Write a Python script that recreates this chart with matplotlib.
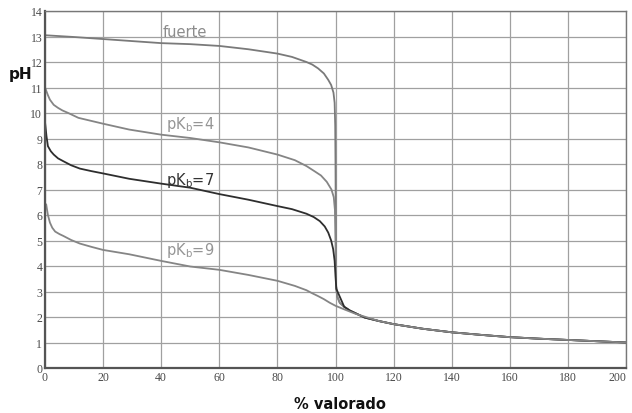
import matplotlib
matplotlib.use("Agg")
import matplotlib.pyplot as plt
import numpy as np

# common tail (excess strong acid), shared by all curves after equivalence
tail_x = [100.2, 100.6, 101.5, 103, 105, 110, 115, 120, 130, 140, 150, 160, 170, 180, 190, 200]
tail_ph = [3.2, 2.8, 2.55, 2.4, 2.25, 1.98, 1.84, 1.72, 1.54, 1.40, 1.30, 1.21, 1.15, 1.10, 1.05, 1.00]

fuerte_x = [0, 10, 20, 30, 40, 50, 60, 70, 80, 85, 90, 92, 94, 96, 97.5, 98.5, 99.3, 99.7, 99.9, 100]
fuerte_ph = [13.05, 12.98, 12.9, 12.82, 12.74, 12.7, 12.63, 12.5, 12.33, 12.2, 12.0, 11.9, 11.75, 11.55, 11.3, 11.1, 10.8, 10.4, 9.5, 8.0]

pkb4_x = [0, 1, 1.7, 3, 4.5, 6, 8, 11.5, 20, 29, 40, 50, 60, 70, 80, 86, 90, 93, 95, 97, 98.6, 99.4, 99.8, 100]
pkb4_ph = [11.0, 10.7, 10.52, 10.32, 10.2, 10.1, 10.0, 9.81, 9.58, 9.35, 9.15, 9.02, 8.85, 8.65, 8.37, 8.15, 7.92, 7.7, 7.55, 7.3, 7.0, 6.7, 6.2, 5.0]

pkb7_x = [0, 0.5, 1, 2, 3, 4.5, 6.3, 9, 12, 16, 20, 29, 40, 50, 60, 70, 80, 85, 90, 92.5, 94.6, 96.3, 97.5, 98.5, 99.2, 99.7, 100, 100.3]
pkb7_ph = [9.65, 9.1, 8.7, 8.5, 8.37, 8.22, 8.11, 7.95, 7.82, 7.72, 7.63, 7.42, 7.23, 7.07, 6.82, 6.6, 6.35, 6.23, 6.05, 5.92, 5.76, 5.55, 5.31, 5.0, 4.66, 4.2, 3.6, 3.1]

pkb9_x = [0, 0.4, 1, 1.7, 2.5, 3.5, 5, 6.3, 9, 12, 16, 20, 29, 40, 50, 60, 70, 80, 86, 90, 92, 94, 96, 98, 100, 103, 107]
pkb9_ph = [6.2, 6.42, 6.0, 5.7, 5.5, 5.35, 5.25, 5.18, 5.02, 4.88, 4.75, 4.63, 4.46, 4.2, 3.98, 3.85, 3.65, 3.42, 3.22, 3.05, 2.93, 2.82, 2.7, 2.56, 2.44, 2.3, 2.12]

labels = ["fuerte", r"pK$_\mathrm{b}$=4", r"pK$_\mathrm{b}$=7", r"pK$_\mathrm{b}$=9"]
label_xy = [(40.5, 13.2), (41.5, 9.6), (41.5, 7.4), (41.5, 4.65)]
colors = ["#7a7a7a", "#858585", "#2e2e2e", "#858585"]
label_colors = ["#8c8c8c", "#959595", "#333333", "#959595"]

fig = plt.figure(figsize=(6.32, 4.14), dpi=100)
ax = fig.add_axes([45/632, 45/414, 581/632, 357/414])

curves = [
    (fuerte_x + tail_x, fuerte_ph + tail_ph),
    (pkb4_x + tail_x, pkb4_ph + tail_ph),
    (pkb7_x + tail_x[3:], pkb7_ph + tail_ph[3:]),
    (pkb9_x + tail_x[6:], pkb9_ph + tail_ph[6:]),
]
for (xs, ys), c in zip(curves, colors):
    ax.plot(xs, ys, color=c, lw=1.3, solid_capstyle="round", solid_joinstyle="round")

for lab, (lx, ly), c in zip(labels, label_xy, label_colors):
    ax.text(lx, ly, lab, color=c, fontsize=10.5, fontweight="medium", va="center", ha="left",
            family="DejaVu Sans")

ax.set_xlim(0, 200)
ax.set_ylim(0, 14)
ax.set_xticks(np.arange(0, 201, 20))
ax.set_yticks(np.arange(0, 15, 1))
ax.grid(True, color="#a0a0a0", lw=0.9)
ax.set_axisbelow(True)
ax.tick_params(length=0, pad=2, labelsize=8.5, labelcolor="#4a4a4a")
for t in ax.get_xticklabels() + ax.get_yticklabels():
    t.set_family("Liberation Serif")
ax.get_xticklabels()[-1].set_horizontalalignment("right")
for s in ["left", "bottom"]:
    ax.spines[s].set_color("#555555")
    ax.spines[s].set_linewidth(1.6)
for s in ["top", "right"]:
    ax.spines[s].set_color("#777777")
    ax.spines[s].set_linewidth(1.0)

fig.text(21/632, 1 - 75/414, "pH", fontsize=11, fontweight="bold", ha="center", va="center", color="#111111")
fig.text(340/632, 1 - 405/414, "% valorado", fontsize=10.5, fontweight="bold", ha="center", va="center", color="#111111")

fig.savefig("out.png", dpi=100)
